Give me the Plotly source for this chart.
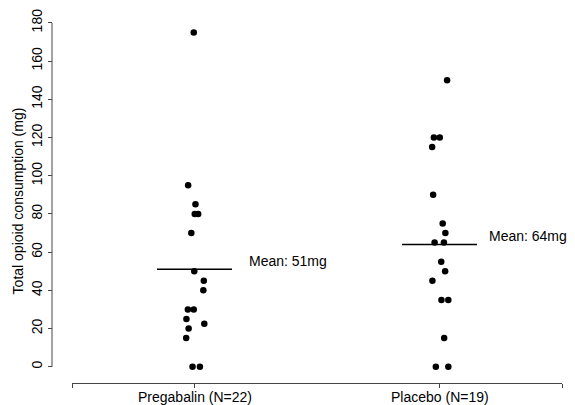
import plotly.graph_objects as go

groups = ["Pregabalin (N=22)", "Placebo (N=19)"]
pregabalin = [175, 95, 85, 80, 80, 70, 50, 45, 40, 30, 30, 25, 22.5, 20, 15, 0, 0]
pregabalin_jitter = [-0.003, -0.026, 0.004, 0.001, 0.015, -0.013, -0.001, 0.038, 0.036,
                     -0.027, -0.003, -0.033, 0.040, -0.024, -0.034, -0.008, 0.022]
placebo = [150, 120, 120, 115, 90, 75, 70, 65, 65, 55, 50, 45, 35, 35, 15, 0, 0]
placebo_jitter = [0.031, -0.023, 0.001, -0.030, -0.026, 0.013, 0.024, -0.020, 0.018,
                  0.007, 0.023, -0.029, 0.008, 0.036, 0.019, -0.015, 0.036]
means = [51, 64]
mean_labels = ["Mean: 51mg", "Mean: 64mg"]
yticks = [0, 20, 40, 60, 80, 100, 120, 140, 160, 180]

FONT = "Liberation Sans, Arial, Helvetica, sans-serif"
LABEL_DX = [0.217, 0.198]   # horizontal offset of the mean labels (layout only)
fig = go.Figure()

series = [(pregabalin, pregabalin_jitter), (placebo, placebo_jitter)]
for i, (vals, jit) in enumerate(series):
    pos = i + 1
    fig.add_trace(go.Scatter(
        x=[pos + j for j in jit], y=vals, mode="markers",
        marker=dict(color="black", size=6.5, line=dict(width=0)),
        showlegend=False, hoverinfo="y"))
    fig.add_trace(go.Scatter(
        x=[pos - 0.153, pos + 0.153], y=[means[i], means[i]], mode="lines",
        line=dict(color="black", width=1.5), showlegend=False, hoverinfo="skip"))
    fig.add_annotation(x=pos + LABEL_DX[i], y=means[i] + 4.5, text=mean_labels[i],
                       showarrow=False, xanchor="left", yanchor="middle",
                       borderpad=0,
                       font=dict(family=FONT, size=14, color="black"))
    # category label under the x axis (kept as text, placed close to the axis)
    fig.add_annotation(x=pos, xref="x", y=0, yref="paper", text=groups[i],
                       showarrow=False, xanchor="center", yanchor="top", yshift=-4,
                       font=dict(family=FONT, size=14, color="black"))

# R-style y axis line spanning only the tick range
fig.add_shape(type="line", xref="paper", yref="y", x0=0, x1=0, y0=0, y1=180,
              line=dict(color="#444", width=1))

# page body has an 8px margin, so the figure is 8px smaller and margins shifted
fig.update_layout(
    width=567, height=397,
    margin=dict(l=44, r=13, t=11, b=22),
    paper_bgcolor="white", plot_bgcolor="white",
    font=dict(family=FONT, size=14, color="black"),
    xaxis=dict(domain=[20 / 510, 1], range=[0.5, 2.5],
               tickmode="array", tickvals=[0.5, 1, 2, 2.5],
               ticktext=["", "", "", ""],
               showline=True, linecolor="#444", linewidth=1,
               ticks="outside", ticklen=4, tickcolor="#444",
               showgrid=False, zeroline=False, automargin=False),
    yaxis=dict(anchor="free", position=0, range=[-8.5, 182],
               tickmode="array", tickvals=yticks,
               showline=False, ticks="outside", ticklen=4, tickcolor="#444",
               tickangle=-90, showgrid=False, zeroline=False, automargin=False,
               tickfont=dict(size=14),
               title=dict(text="Total opioid consumption (mg)", font=dict(size=14),
                          standoff=1)),
)

fig.write_html("out.html")
